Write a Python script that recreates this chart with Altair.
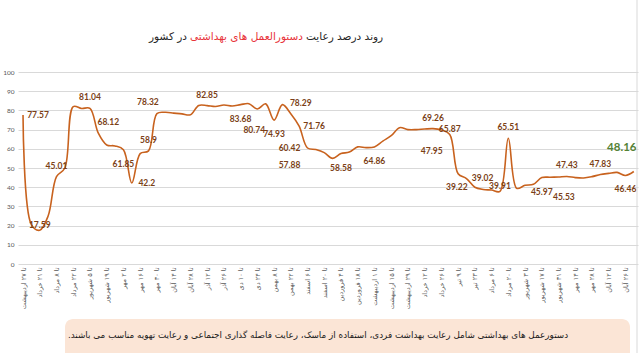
import altair as alt
import pandas as pd

# ---------------- data ----------------
values = [77.57, 20.5, 17.59, 25.0, 45.5, 50.0, 82.0, 81.0, 81.04, 68.12,
          62.0, 61.5, 59.5, 42.2, 57.5, 58.9, 78.32, 79.0, 78.6, 78.2,
          77.7, 82.6, 82.5, 82.0, 82.8, 82.3, 83.0, 83.5, 80.74, 83.4,
          74.93, 83.0, 78.29, 71.76, 60.42, 59.6, 58.0, 55.0, 57.5, 58.3,
          61.0, 60.6, 61.0, 64.0, 66.8, 71.0, 70.0, 70.0, 70.3, 70.5,
          69.8, 67.5, 47.0, 44.5, 40.0, 38.8, 38.5, 37.8, 65.51, 39.4,
          41.0, 41.5, 45.0, 45.2, 45.3, 45.6, 45.0, 44.8, 45.5, 46.6,
          47.2, 47.7, 46.1, 48.16]

date_labels = ["تا ۲۷ اردیبهشت", "تا ۲۱ خرداد", "تا ۸ مرداد", "تا ۲۲ مرداد",
               "تا ۵ شهریور", "تا ۱۹ شهریور", "تا ۲ مهر", "تا ۱۶ مهر",
               "تا ۳۰ مهر", "تا ۱۴ آبان", "تا ۲۸ آبان", "تا ۱۲ آذر",
               "تا ۲۶ آذر", "تا ۱۰ دی", "تا ۲۴ دی", "تا ۸ بهمن",
               "تا ۲۲ بهمن", "تا ۶ اسفند", "تا ۲۰ اسفند", "تا ۴ فروردین",
               "تا ۱۸ فروردین", "تا ۱ اردیبهشت", "تا ۱۵ اردیبهشت", "تا ۲۹ اردیبهشت",
               "تا ۱۲ خرداد", "تا ۲۶ خرداد", "تا ۹ تیر", "تا ۲۳ تیر",
               "تا ۶ مرداد", "تا ۲۰ مرداد", "تا ۳ شهریور", "تا ۱۷ شهریور",
               "تا ۳۱ شهریور", "تا ۱۴ مهر", "تا ۲۸ مهر", "تا ۱۲ آبان",
               "تا ۲۶ آبان"]

label_idx = [0, 2, 4, 8, 9, 12, 13, 15, 16, 22, 26, 28, 30, 32, 33, 34, 34, 38, 42,
             49, 51, 51, 54, 56, 57, 58, 62, 65, 65, 69, 72]
label_text = ["77.57", "17.59", "45.01", "81.04", "68.12", "61.85", "42.2", "58.9",
              "78.32", "82.85", "83.68", "80.74", "74.93", "78.29", "71.76", "60.42",
              "57.88", "58.58", "64.86", "69.26", "65.87", "47.95", "39.22", "39.02",
              "39.91", "65.51", "45.97", "45.53", "47.43", "47.83", "46.46"]
label_place = ["r", "c", "a", "a", "ar", "b", "r", "a", "al", "a", "b", "bb", "b", "ar",
               "r", "l", "bl", "b", "b", "a", "c", "bl", "l", "al", "c", "a", "b", "bb",
               "a", "a", "b"]
last_idx = 73
last_text = "48.16"

title_parts = ["روند درصد رعایت", "دستورالعمل های بهداشتی", "در کشور"]
footnote = ("دستورعمل های بهداشتی شامل رعایت بهداشت فردی، استفاده از ماسک، "
            "رعایت فاصله گذاری اجتماعی و رعایت تهویه مناسب می باشند.\u200f")

# ---------------- styles ----------------
LINE_COLOR = "#C8621E"
LABEL_COLOR = "#7B3F17"
GREEN = "#548235"
GRID = "#D9D9D9"
AXIS_TXT = "#595959"
offsets = {"a": (0, -11), "b": (0, 14), "bb": (-3, 21), "r": (15, 0), "l": (-18, 0),
           "al": (-9, -12), "ar": (10, -11), "bl": (-18, 17), "c": (0, -5)}

W, H = 620, 192
PAD_L, PAD_T = 18, 72

df = pd.DataFrame({"idx": list(range(len(values))), "value": values})
lab = pd.DataFrame({"idx": label_idx,
                    "value": [values[i] for i in label_idx],
                    "text": label_text,
                    "place": label_place})
last = pd.DataFrame({"idx": [last_idx], "value": [values[last_idx]], "text": [last_text]})

label_expr = "[" + ",".join("'" + d + "'" for d in date_labels) + "][datum.value / 2]"

x_enc = alt.X("idx:Q",
              scale=alt.Scale(domain=[-0.6, 73.5], nice=False, zero=False),
              axis=alt.Axis(values=list(range(0, len(values), 2)), labelExpr=label_expr,
                            labelAngle=-90, labelFontSize=6.5, labelColor=AXIS_TXT,
                            labelFont="DejaVu Sans", grid=False, ticks=False, domain=False,
                            labelPadding=3, labelOverlap=False, labelBound=False,
                            labelFlush=False, title=None))
y_enc = alt.Y("value:Q",
              scale=alt.Scale(domain=[0, 100], nice=False),
              axis=alt.Axis(values=list(range(0, 101, 10)), grid=True, gridColor=GRID,
                            ticks=False, domain=False, labelFontSize=6.5,
                            labelColor=AXIS_TXT, labelFont="Lato", labelPadding=4,
                            title=None))

line = alt.Chart(df).mark_line(color=LINE_COLOR, strokeWidth=1.6,
                               interpolate="catmull-rom").encode(x=x_enc, y=y_enc)

layers = [line]
for code, (dx, dy) in offsets.items():
    layers.append(
        alt.Chart(lab).transform_filter(alt.datum.place == code)
        .mark_text(dx=dx, dy=dy, font="Lato", fontSize=8.5, fontWeight="bold",
                   color=LABEL_COLOR, align="center", baseline="middle")
        .encode(x=x_enc, y=y_enc, text="text:N")
    )

layers.append(
    alt.Chart(last).mark_text(dx=-12, dy=-24, font="Lato", fontSize=11.5,
                              fontWeight="bold", color=GREEN, align="center",
                              baseline="middle")
    .encode(x=x_enc, y=y_enc, text="text:N")
)

one = alt.Data(values=[{}])
title_font = "DejaVu Sans"
ty = 37 - PAD_T
layers += [
    alt.Chart(one).mark_text(text=title_parts[0], font=title_font, fontSize=10.5,
                             color="#262626", align="left", baseline="middle")
    .encode(x=alt.value(306 - PAD_L), y=alt.value(ty)),
    alt.Chart(one).mark_text(text=title_parts[1], font=title_font, fontSize=10.5,
                             color="#E8333A", align="right", baseline="middle")
    .encode(x=alt.value(303 - PAD_L), y=alt.value(ty)),
    alt.Chart(one).mark_text(text=title_parts[2], font=title_font, fontSize=10.5,
                             color="#262626", align="right", baseline="middle")
    .encode(x=alt.value(187 - PAD_L), y=alt.value(ty)),
    alt.Chart(one).mark_rect(color="#FBE5D6", cornerRadius=8)
    .encode(x=alt.value(65 - PAD_L), x2=alt.value(630 - PAD_L),
            y=alt.value(319 - PAD_T), y2=alt.value(375 - PAD_T)),
    alt.Chart(one).mark_text(text=footnote, font="DejaVu Sans", fontSize=8.8,
                             color="#1A1A1A", align="center", baseline="middle")
    .encode(x=alt.value(318 - PAD_L), y=alt.value(335 - PAD_T)),
    alt.Chart(one).mark_rule(color=GRID, strokeWidth=1)
    .encode(x=alt.value(637 - PAD_L), y=alt.value(-PAD_T), y2=alt.value(353 - PAD_T)),
]

chart = alt.layer(*layers).properties(
    width=W, height=H,
    padding={"left": PAD_L, "top": PAD_T, "right": 640 - PAD_L - W, "bottom": 353 - PAD_T - H},
    autosize=alt.AutoSizeParams(type="none"),
    background="white",
).configure_view(stroke=None)

chart.save("out.html", embed_options={"renderer": "svg", "actions": False})
